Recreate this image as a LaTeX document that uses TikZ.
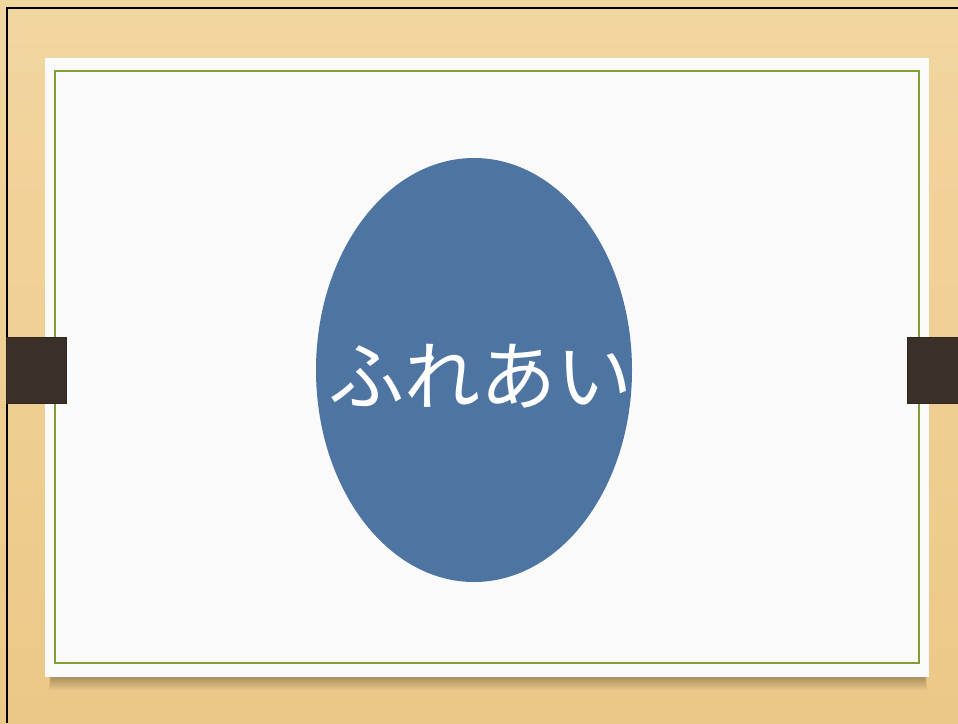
\documentclass[tikz,border=0pt]{standalone}
\usepackage{fontspec}
\newfontfamily\jpfont{Noto Sans CJK JP}
\usetikzlibrary{shapes.geometric}
\definecolor{woodtop}{RGB}{242,214,160}
\definecolor{woodbot}{RGB}{236,200,135}
\definecolor{paper}{RGB}{250,250,250}
\definecolor{frameg}{RGB}{128,160,55}
\definecolor{clip}{RGB}{58,48,40}
\definecolor{ovalblue}{RGB}{78,116,162}
\tikzset{
  clipbox/.style={fill=clip, draw=clip!80!black, line width=0.6pt},
  oval/.style={ellipse, fill=ovalblue, minimum width=316pt, minimum height=424pt, inner sep=0pt},
  ovaltext/.style={text=white, font=\jpfont\fontsize{76pt}{84pt}\selectfont}
}
\begin{document}
\begin{tikzpicture}[x=1pt,y=-1pt]
\useasboundingbox (0,0) rectangle (958,723);
% wood background
\shade[top color=woodtop, bottom color=woodbot] (0,0) rectangle (958,723);
% black outer edge
\draw[line width=2pt, black] (6.5,723) -- (6.5,7.5) -- (958,7.5);
% paper shadow (soft, below)
\foreach \i in {1,...,8}{
  \fill[black, opacity=0.035] (52-\i*0.4,672) rectangle (924+\i*0.4,677+\i*1.6);
}
% paper
\fill[paper] (45,58) rectangle (929,677);
% green frame
\draw[frameg, line width=1.8pt] (55,71) rectangle (919,663);
% clips
\fill[clipbox] (6,337) rectangle (66,403);
\fill[clipbox] (907,337) rectangle (958,403);
% oval
\node[oval] (o) at (474,370) {};
\node[ovaltext] (t) at (480,376) {ふれあい};
\end{tikzpicture}
\end{document}
